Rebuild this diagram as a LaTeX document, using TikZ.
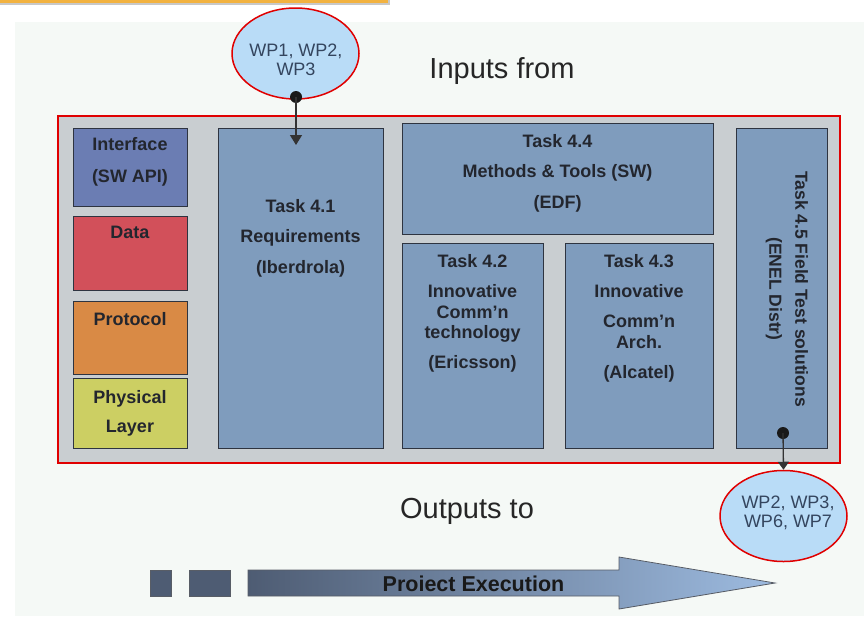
\documentclass[tikz,border=0pt]{standalone}
\usepackage{fontspec}
\setmainfont{Liberation Sans}
\usetikzlibrary{arrows.meta,shapes.geometric}

\definecolor{pagebg}{HTML}{F5F9F6}
\definecolor{barorange}{HTML}{F2B240}
\definecolor{barshadow}{HTML}{C8C8C8}
\definecolor{framefill}{HTML}{C9CED1}
\definecolor{framered}{HTML}{E00000}
\definecolor{taskfill}{HTML}{7F9CBD}
\definecolor{boxedge}{HTML}{2E3440}
\definecolor{ifacefill}{HTML}{6B7DB3}
\definecolor{datafill}{HTML}{D2505A}
\definecolor{protofill}{HTML}{D98A45}
\definecolor{physfill}{HTML}{CCCF63}
\definecolor{boxtext}{HTML}{23262E}
\definecolor{wpfill}{HTML}{B9DCF7}
\definecolor{wptext}{HTML}{34455E}
\definecolor{execdark}{HTML}{4E5C73}
\definecolor{execlight}{HTML}{9DBBE0}

\tikzset{
  box/.style={draw=boxedge, line width=1.3pt, inner sep=0pt, anchor=north west},
  boxlabel/.style={anchor=north, inner sep=0pt, align=center, text=boxtext,
    font=\bfseries\fontsize{18}{20.5}\selectfont},
  wp/.style={ellipse, draw=framered, fill=wpfill, line width=1.5pt,
    minimum width=127pt, minimum height=91pt, inner sep=0pt},
  wplabel/.style={anchor=north, inner sep=0pt, align=center, text=wptext,
    font=\fontsize{18}{19.5}\selectfont},
  heading/.style={anchor=base, inner sep=0pt, text=black!85,
    font=\fontsize{29}{33}\selectfont},
  dot/.style={circle, fill=black!90, inner sep=0pt, minimum size=12pt},
  conn/.style={draw=black!80, line width=1.3pt, -{Triangle[width=12pt,length=10pt]}},
  chip/.style={draw=boxedge!80, line width=0.8pt, fill=execdark, inner sep=0pt, anchor=north west}
}

\begin{document}
\begin{tikzpicture}[x=1pt,y=-1pt]
\useasboundingbox (0,0) rectangle (864,616);

% page background and the orange title rule
\fill[white] (0,0) rectangle (864,616);
\fill[pagebg] (15,22) rectangle (864,616);
\fill[barshadow] (0,0) rectangle (390,4.5);
\fill[barorange] (0,0) rectangle (388,3);

% work package frame
\node[box, draw=framered, line width=2pt, fill=framefill,
      minimum width=782pt, minimum height=347pt] (frame) at (57,115) {};

% layer column
\node[box, fill=ifacefill, minimum width=114pt, minimum height=78pt] (iface) at (73,128) {};
\node[box, fill=datafill,  minimum width=114pt, minimum height=74pt] (data)  at (73,216) {};
\node[box, fill=protofill, minimum width=114pt, minimum height=73pt] (proto) at (73,301) {};
\node[box, fill=physfill,  minimum width=114pt, minimum height=70pt] (phys)  at (73,378) {};

\node[boxlabel] (ifacetxt) at (130,137.5) {Interface\\[11pt](SW API)};
\node[boxlabel] (datatxt)  at (130,225.5) {Data};
\node[boxlabel] (prototxt) at (130,312.5) {Protocol};
\node[boxlabel] (phystxt)  at (130,390.5) {Physical\\[8.5pt]Layer};

% tasks
\node[box, fill=taskfill, minimum width=165pt, minimum height=320pt] (t41) at (218,128) {};
\node[box, fill=taskfill, minimum width=311pt, minimum height=111pt] (t44) at (402,123) {};
\node[box, fill=taskfill, minimum width=141pt, minimum height=205pt] (t42) at (402,243) {};
\node[box, fill=taskfill, minimum width=148pt, minimum height=205pt] (t43) at (565,243) {};
\node[box, fill=taskfill, minimum width=91pt,  minimum height=320pt] (t45) at (736,128) {};

\node[boxlabel] (t41txt) at (300.5,199.5) {Task 4.1\\[9.5pt]Requirements\\[10.5pt](Iberdrola)};
\node[boxlabel] (t44txt) at (557.5,134.5) {Task 4.4\\[9.5pt]Methods \& Tools (SW)\\[10.5pt](EDF)};
\node[boxlabel] (t42txt) at (472.5,254.5) {Task 4.2\\[9.5pt]Innovative\\Comm’n\\technology\\[9.5pt](Ericsson)};
\node[boxlabel] (t43txt) at (639,254.5) {Task 4.3\\[9.5pt]Innovative\\[9.5pt]Comm’n\\Arch.\\[9.5pt](Alcatel)};
\node[boxlabel, anchor=center, rotate=-90,
      font=\bfseries\fontsize{17.5}{26}\selectfont] (t45txt) at (787,289)
      {Task 4.5 Field Test solutions\\(ENEL Distr)};

% inputs and outputs
\node[wp] (wpin)  at (295.5,53.5) {};
\node[wplabel] (wpintxt) at (296,43.5) {WP1, WP2,\\WP3};
\node[wp] (wpout) at (783.5,516) {};
\node[wplabel] (wpouttxt) at (788,495.5) {WP2, WP3,\\WP6, WP7};

\node[heading] (inputs)  at (502,78)  {Inputs from};
\node[heading] (outputs) at (467,518) {Outputs to};

\node[dot] (din) at (296,97) {};
\coordinate (tin) at (296,145);
\draw[conn] (din.center) -- (tin);

\node[dot] (dout) at (783,433) {};
\draw[conn, -{Triangle[width=11pt,length=8pt]}] (dout.center) -- (wpout.north);

% project execution arrow
\node[chip, minimum width=21pt, minimum height=26pt] (chipa) at (150,570) {};
\node[chip, minimum width=41pt, minimum height=26pt] (chipb) at (189,570) {};
\path[draw=boxedge!80, line width=0.8pt, left color=execdark, right color=execlight]
  (248,570) -- (619,570) -- (619,557) -- (775,583) -- (619,609) -- (619,596)
  -- (248,596) -- cycle;
\node[anchor=base, inner sep=0pt, text=black!90,
      font=\bfseries\fontsize{21.5}{24}\selectfont] (exec) at (473.5,591.5) {Proiect Execution};

\end{tikzpicture}
\end{document}
